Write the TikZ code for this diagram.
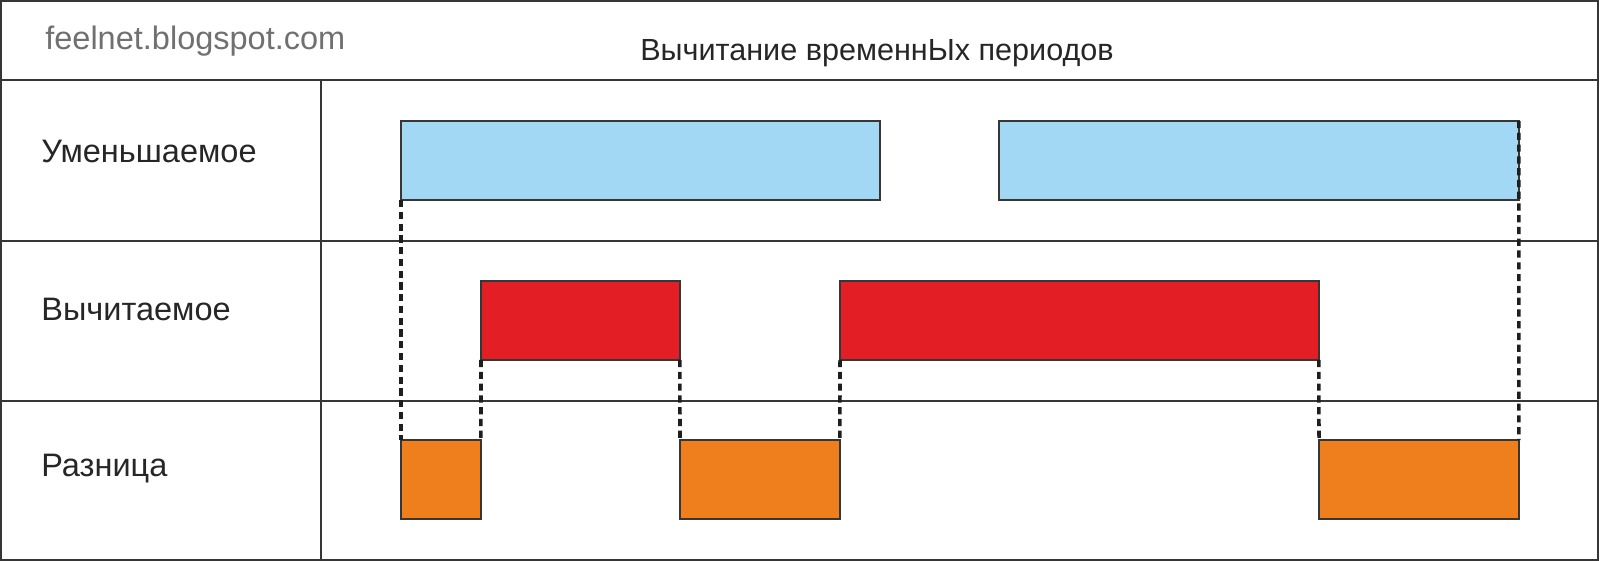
\documentclass[tikz,border=0pt]{standalone}
\usepackage{fontspec}
\setmainfont{Liberation Sans}
\definecolor{umcol}{HTML}{A3D8F4}
\definecolor{vycol}{HTML}{E31E24}
\definecolor{razcol}{HTML}{EE7F1C}
\definecolor{linecol}{HTML}{363636}
\definecolor{dashcol}{HTML}{1E1E1E}
\definecolor{sitecol}{HTML}{707070}
\tikzset{
    frame/.style={draw=linecol,line width=1.1pt},
    bar/.style={draw=linecol,line width=1pt,inner sep=0pt,outer sep=0pt,anchor=north west,minimum height=1.58cm},
    dashline/.style={draw=dashcol,line width=2pt,dash pattern=on 4.1pt off 2.6pt},
    label/.style={anchor=base west,inner sep=0pt,font=\fontsize{18.5}{22}\selectfont,text=black!85}
}

\begin{document}
\begin{tikzpicture}[x=0.02cm,y=-0.02cm]
    \useasboundingbox (0,0) rectangle (1600,561);
    % table
    \draw[frame] (1,1) rectangle (1598,560);
    \draw[frame] (1,80) -- (1598,80);
    \draw[frame] (1,241) -- (1598,241);
    \draw[frame,line width=1.4pt] (1,401) -- (1598,401);
    \draw[frame] (321,80) -- (321,560);
    % texts
    \node[label,text=sitecol] (site) at (45,50) {feelnet.blogspot.com};
    \node[label,anchor=base,font=\fontsize{17.4}{21}\selectfont] (title) at (877,60) {Вычитание временнЫх периодов};
    \node[label] (umen) at (41,162) {Уменьшаемое};
    \node[label] (vych) at (41,320) {Вычитаемое};
    \node[label] (razn) at (41,476) {Разница};
    % periods
    \node[bar,fill=umcol,minimum width=9.58cm] (u1) at (401,121) {};
    \node[bar,fill=umcol,minimum width=10.4cm] (u2) at (999,121) {};
    \node[bar,fill=vycol,minimum width=3.98cm] (v1) at (481,281) {};
    \node[bar,fill=vycol,minimum width=9.58cm] (v2) at (840,281) {};
    \node[bar,fill=razcol,minimum width=1.6cm] (r1) at (401,440) {};
    \node[bar,fill=razcol,minimum width=3.2cm] (r2) at (680,440) {};
    \node[bar,fill=razcol,minimum width=4cm] (r3) at (1319,440) {};
    % projections
    \draw[dashline] (u1.south west) -- (r1.north west);
    \draw[dashline] (v1.south west) -- (r1.north east);
    \draw[dashline] (v1.south east) -- (r2.north west);
    \draw[dashline] (v2.south west) -- (r2.north east);
    \draw[dashline] (v2.south east) -- (r3.north west);
    \draw[dashline] (u2.north east) -- (r3.north east);
\end{tikzpicture}
\end{document}
